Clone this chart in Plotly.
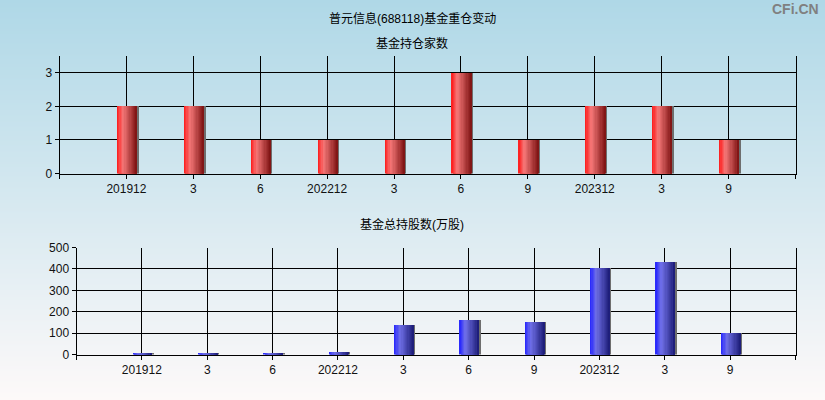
import base64, struct, zlib
import plotly.graph_objects as go

# ---------------- data ----------------
categories = ["201912", "3", "6", "202212", "3", "6", "9", "202312", "3", "9"]
fund_count = [2, 2, 1, 1, 1, 3, 1, 2, 2, 1]
fund_shares = [5, 5, 5, 14, 142, 165, 156, 408, 436, 104]
count_ticks = [0, 1, 2, 3]
share_ticks = [0, 100, 200, 300, 400, 500]

main_title = "普元信息(688118)基金重仓变动"
top_title = "基金持仓家数"
bottom_title = "基金总持股数(万股)"
watermark = "CFi.CN"

W, H = 825, 400
FONT = "Liberation Sans, Noto Sans CJK SC, sans-serif"

# ---------------- background gradient as png ----------------
def make_png(width, height, rows):
    raw = b"".join(b"\x00" + bytes(r) * width for r in rows)
    def chunk(tag, data):
        c = struct.pack(">I", len(data)) + tag + data
        return c + struct.pack(">I", zlib.crc32(tag + data) & 0xffffffff)
    png = b"\x89PNG\r\n\x1a\n"
    png += chunk(b"IHDR", struct.pack(">IIBBBBB", width, height, 8, 2, 0, 0, 0))
    png += chunk(b"IDAT", zlib.compress(raw))
    png += chunk(b"IEND", b"")
    return "data:image/png;base64," + base64.b64encode(png).decode()

top_c = (175, 216, 231)
bot_c = (253, 249, 249)
rows = []
for i in range(H):
    t = i / (H - 1)
    rows.append(tuple(int(round(a + (b - a) * t)) for a, b in zip(top_c, bot_c)))
bg_src = make_png(1, H, rows)

# ---------------- helpers ----------------
def lerp(c1, c2, t):
    return tuple(a + (b - a) * t for a, b in zip(c1, c2))

def grad_color(stops, t):
    for (t0, c0), (t1, c1) in zip(stops, stops[1:]):
        if t0 <= t <= t1:
            return lerp(c0, c1, (t - t0) / (t1 - t0))
    return stops[-1][1]

red_stops = [(0.0, (255, 25, 25)), (0.3, (245, 120, 120)), (1.0, (125, 18, 18))]
blue_stops = [(0.0, (35, 35, 255)), (0.3, (112, 112, 232)), (1.0, (28, 28, 118))]

BAR_W = 0.3
N_STRIPS = 16
x_idx = list(range(len(categories)))

fig = go.Figure()

def add_bars(values, stops, xa, ya):
    # shadow
    fig.add_trace(go.Bar(
        x=x_idx, y=values, width=BAR_W, offset=-BAR_W / 2 + 0.025,
        marker=dict(color="rgb(110,110,110)", line=dict(width=0)),
        xaxis=xa, yaxis=ya, hoverinfo="skip", showlegend=False))
    for k in range(N_STRIPS):
        start = -BAR_W / 2 + BAR_W * k / N_STRIPS
        t = (k + 0.5) / N_STRIPS
        c = grad_color(stops, t)
        fig.add_trace(go.Bar(
            x=x_idx, y=values, width=BAR_W / 2 - start, offset=start,
            marker=dict(color="rgb(%d,%d,%d)" % tuple(int(v) for v in c), line=dict(width=0)),
            xaxis=xa, yaxis=ya, hoverinfo="skip", showlegend=False))

add_bars(fund_count, red_stops, "x", "y")
add_bars(fund_shares, blue_stops, "x2", "y2")

tickfont = dict(family=FONT, size=12, color="#111111")
xcommon = dict(
    tickmode="array", tickvals=[-1] + x_idx + [10], ticktext=[""] + categories + [""],
    range=[-1, 10], showgrid=True, gridcolor="black", gridwidth=1,
    showline=True, linecolor="black", linewidth=1, mirror=False,
    ticks="outside", ticklen=4, tickcolor="black", tickfont=tickfont, zeroline=False,
    fixedrange=True, automargin=False)
ycommon = dict(
    showgrid=True, gridcolor="black", gridwidth=1,
    showline=True, linecolor="black", linewidth=1, mirror=True,
    ticks="outside", ticklen=4, tickcolor="black", tickfont=tickfont, zeroline=False,
    fixedrange=True, automargin=False)

def px_x(p):
    return p / W

def px_y(p):
    return 1 - p / H

fig.update_layout(
    width=W, height=H, margin=dict(l=0, r=0, t=0, b=0, pad=0, autoexpand=False),
    paper_bgcolor="rgba(0,0,0,0)", plot_bgcolor="rgba(0,0,0,0)",
    barmode="overlay", bargap=0, showlegend=False,
    font=dict(family=FONT, size=12, color="black"),
    xaxis=dict(domain=[px_x(59.5), px_x(795.5)], anchor="y", **xcommon),
    yaxis=dict(domain=[px_y(173.5), px_y(56)], anchor="x", range=[0, 3.5],
               tickmode="array", tickvals=count_ticks, **ycommon),
    xaxis2=dict(domain=[px_x(76.5), px_x(795.5)], anchor="y2", **xcommon),
    yaxis2=dict(domain=[px_y(354.5), px_y(247.5)], anchor="x2", range=[0, 500],
                tickmode="array", tickvals=share_ticks, **ycommon),
    images=[dict(source=bg_src, xref="paper", yref="paper", x=0, y=1,
                 sizex=1, sizey=1, sizing="stretch", layer="below",
                 xanchor="left", yanchor="top")],
    annotations=[
        dict(text=main_title, x=px_x(412), y=px_y(18), xref="paper", yref="paper",
             showarrow=False, font=dict(size=12, color="black"), xanchor="center", yanchor="middle"),
        dict(text=top_title, x=px_x(412), y=px_y(43), xref="paper", yref="paper",
             showarrow=False, font=dict(size=12, color="black"), xanchor="center", yanchor="middle"),
        dict(text=bottom_title, x=px_x(412), y=px_y(224), xref="paper", yref="paper",
             showarrow=False, font=dict(size=12, color="black"), xanchor="center", yanchor="middle"),
        dict(text="<b>" + watermark + "</b>", x=px_x(821), y=px_y(9), xref="paper", yref="paper",
             showarrow=False, font=dict(size=14, color="rgb(128,128,128)",
                                         family="Liberation Sans, sans-serif"),
             xanchor="right", yanchor="middle"),
    ],
)

fig.write_html("out.html", config={"displayModeBar": False},
               post_script="document.body.style.margin='0px';document.body.style.overflow='hidden';")
